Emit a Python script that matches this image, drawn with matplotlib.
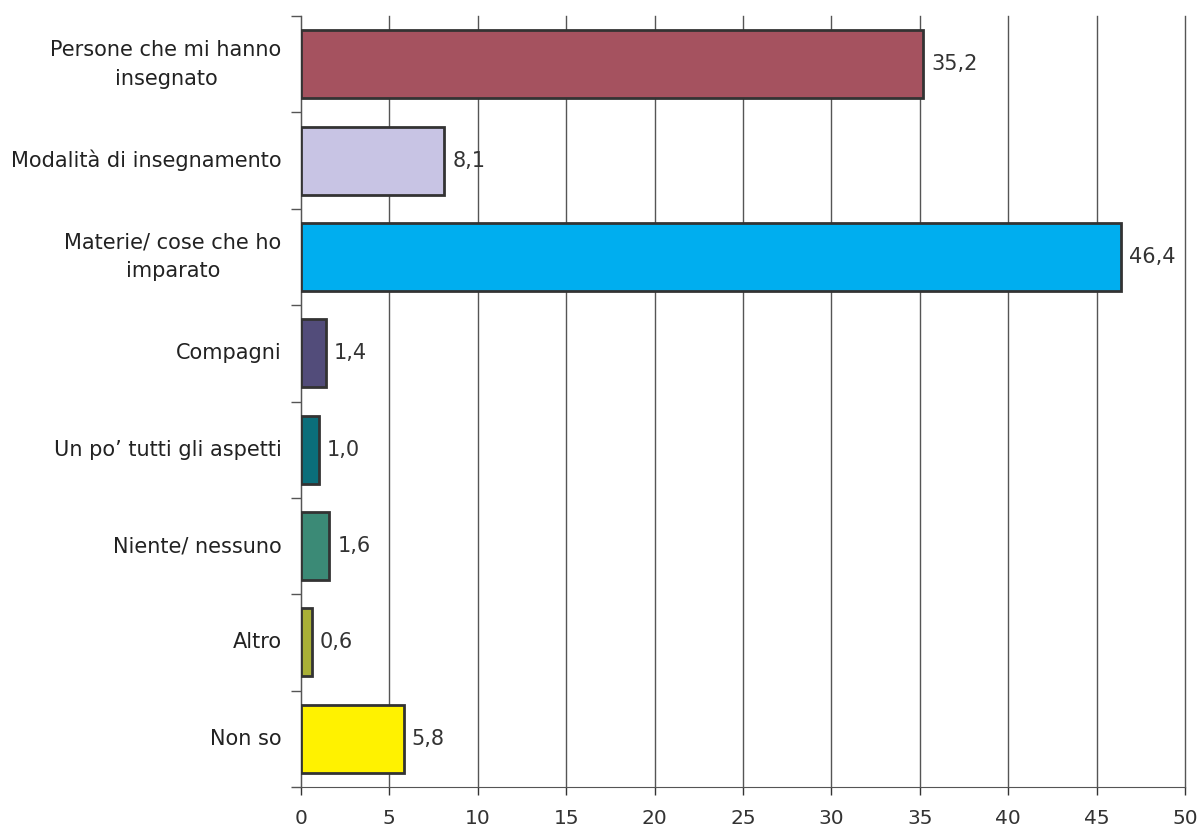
import matplotlib.pyplot as plt
import numpy as np

# categorie dall'alto in basso
categorie = ["Persone che mi hanno\ninsegnato", "Modalità di insegnamento",
             "Materie/ cose che ho\nimparato", "Compagni", "Un po\u2019 tutti gli aspetti",
             "Niente/ nessuno", "Altro", "Non so"]
valori = [35.2, 8.1, 46.4, 1.4, 1.0, 1.6, 0.6, 5.8]
colori = ["#A5525F", "#C8C4E4", "#00AEEF", "#524C7A", "#0B6E7A",
          "#3B8A76", "#A9B036", "#FFF200"]
xticks = [0, 5, 10, 15, 20, 25, 30, 35, 40, 45, 50]

fig = plt.figure(figsize=(12, 8.3), dpi=100)
ax = fig.add_axes([0.2508, 0.0518, 0.7367, 0.9289])

n = len(categorie)
y = np.arange(n)
ax.barh(y, valori, height=0.705, color=colori, edgecolor="#333333", linewidth=2, zorder=3)
for yi, v in zip(y, valori):
    ax.text(v + 0.45, yi, f"{v:.1f}".replace(".", ","), va="center", ha="left",
            fontsize=15, color="#333333")

ax.set_ylim(n - 0.5, -0.5)
ax.set_xlim(0, 50)
ax.set_xticks(xticks)
ax.tick_params(axis="x", labelsize=14.5, colors="#333333", length=6, width=1, pad=10)

# etichette centrate, tacche ai confini
ax.set_yticks(np.arange(n + 1) - 0.5)
ax.set_yticklabels([])
ax.tick_params(axis="y", length=7, width=1, color="#555555")
for yi, lab in zip(y, categorie):
    ax.text(-1.1, yi, lab, ha="right", va="center", fontsize=15, color="#222222",
            linespacing=1.55, multialignment="center", transform=ax.transData)

ax.grid(axis="x", color="#555555", linewidth=1, zorder=0)
for gl in ax.get_xgridlines():
    gl.set_clip_on(False)
for s in ["top", "right"]:
    ax.spines[s].set_visible(False)
ax.spines["left"].set_color("#555555")
ax.spines["bottom"].set_color("#555555")

fig.savefig("out.png", dpi=100)
